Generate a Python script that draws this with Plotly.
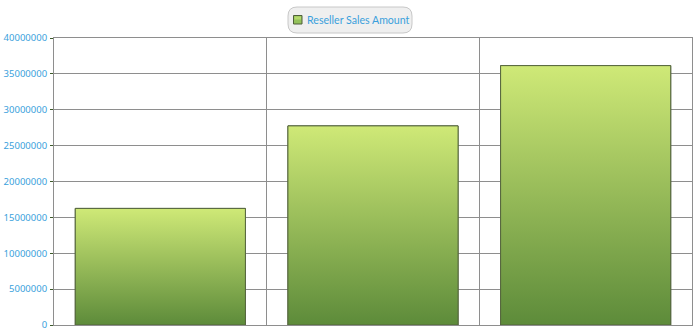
import plotly.graph_objects as go

categories = ["A", "B", "C"]
sales = [16250000, 27750000, 36150000]
series_name = "Reseller Sales Amount"
y_ticks = [0, 5000000, 10000000, 15000000, 20000000, 25000000, 30000000, 35000000, 40000000]

TOP = "#cfe977"
BOT = "#5d8b3a"
EDGE = "#55653f"
TXT = "#3a9fdc"

fig = go.Figure()

fig.add_trace(go.Bar(
    x=list(range(len(categories))), y=sales, name=series_name,
    width=0.8,
    marker=dict(color="#8fbf58", line=dict(color=EDGE, width=1)),
    showlegend=False,
))

# gradient overlays derived from the data
for i, v in enumerate(sales):
    fig.add_trace(go.Scatter(
        x=[i - 0.4, i + 0.4, i + 0.4, i - 0.4, i - 0.4],
        y=[0, 0, v, v, 0],
        mode="lines", fill="toself",
        line=dict(color=EDGE, width=1),
        fillgradient=dict(type="vertical", colorscale=[[0, BOT], [1, TOP]]),
        hoverinfo="skip", showlegend=False,
    ))

W, H = 638.0, 287.0
L, T = 54, 38
def px(x):
    return (x - L) / W
def py(y):
    return (T + H - y) / H

# rounded legend background
x0, x1 = px(288), px(412)
y0, y1 = py(33), py(7)
rx, ry = 9 / W, 9 / H
path = (f"M {x0+rx},{y0} L {x1-rx},{y0} Q {x1},{y0} {x1},{y0+ry} "
        f"L {x1},{y1-ry} Q {x1},{y1} {x1-rx},{y1} L {x0+rx},{y1} "
        f"Q {x0},{y1} {x0},{y1-ry} L {x0},{y0+ry} Q {x0},{y0} {x0+rx},{y0} Z")
fig.add_shape(type="path", path=path, xref="paper", yref="paper",
              fillcolor="#efefef", line=dict(color="#c8c8c8", width=1), layer="below")
# legend symbol
fig.add_shape(type="rect", xref="paper", yref="paper",
              x0=px(293.5), x1=px(302), y0=py(24), y1=py(15.5),
              fillcolor="#93c15a", line=dict(color="#4f5f3a", width=1))
fig.add_shape(type="rect", xref="paper", yref="paper",
              x0=px(294.5), x1=px(301), y0=py(19.5), y1=py(16.5),
              fillcolor="#b5d96c", line=dict(width=0))
fig.add_annotation(text=series_name, xref="paper", yref="paper",
                   x=px(305), y=py(20), xanchor="left", yanchor="middle",
                   showarrow=False,
                   font=dict(family="Lato, Noto Sans, sans-serif", size=10.6, color=TXT))

fig.update_layout(
    width=700, height=333,
    margin=dict(l=L, r=8, t=T, b=8),
    paper_bgcolor="white", plot_bgcolor="white",
    font=dict(family="Noto Sans, Open Sans, sans-serif", size=10, color=TXT),
    showlegend=False,
    xaxis=dict(range=[-0.5, len(categories) - 0.5], tickvals=[0.5, 1.5],
               showticklabels=False, ticks="", showgrid=True, gridcolor="#8e8e8e",
               gridwidth=1, zeroline=False, showline=True, linecolor="#8e8e8e",
               mirror=True, automargin=False),
    yaxis=dict(range=[0, 40000000], tickvals=y_ticks,
               ticktext=[str(t) for t in y_ticks],
               showgrid=True, gridcolor="#8e8e8e", gridwidth=1, zeroline=False,
               showline=True, linecolor="#8e8e8e", mirror=True,
               ticks="outside", ticklen=3, tickcolor="#3d5a2a",
               ticklabelstandoff=1,
               tickfont=dict(family="Noto Sans, sans-serif", size=9.5, color=TXT),
               automargin=False),
    bargap=0.2,
)

fig.write_html("out.html")
